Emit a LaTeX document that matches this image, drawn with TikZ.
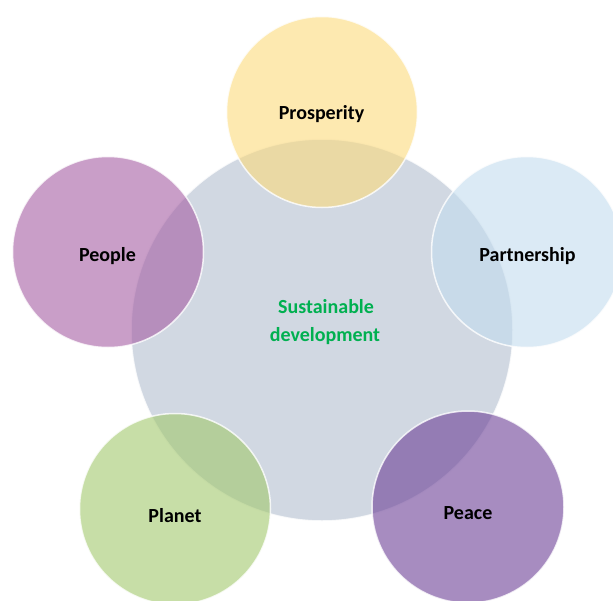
\documentclass[tikz,border=0pt]{standalone}
\usepackage{fontspec}
\setmainfont{Carlito}
\definecolor{cCenter}{RGB}{209,216,226}
\definecolor{cProsp}{RGB}{252,218,123}
\definecolor{cPeople}{RGB}{165,93,163}
\definecolor{cPartner}{RGB}{195,220,238}
\definecolor{cPeace}{RGB}{108,63,150}
\definecolor{cPlanet}{RGB}{162,200,108}
\definecolor{cGreen}{RGB}{0,176,80}
\begin{document}
\begin{tikzpicture}[x=1pt,y=-1pt,
  ring/.style={circle,inner sep=0pt,minimum size=#1,draw=white,draw opacity=0.8,line width=1.5pt,fill opacity=0.6},
  lbl/.style={font=\bfseries\fontsize{20}{24}\selectfont,anchor=base,inner sep=0pt,text=black}]
\useasboundingbox (0,0) rectangle (613,600);
\clip (0,0) rectangle (613,600);
\node[circle,inner sep=0pt,minimum size=382pt,fill=cCenter,draw=white,draw opacity=0.8,line width=1.5pt] (center) at (322,330) {};
\node[ring=191pt,fill=cProsp] (prosp) at (322,112) {};
\node[ring=191pt,fill=cPeople] (people) at (108,252) {};
\node[ring=191pt,fill=cPartner] (partner) at (527,252) {};
\node[ring=192pt,fill=cPeace] (peace) at (468,507) {};
\node[ring=191pt,fill=cPlanet] (planet) at (175,509) {};
\node[lbl] (tprosp) at (321.5,119) {Prosperity};
\node[lbl] (tpeople) at (107.5,261) {People};
\node[lbl] (tpartner) at (527.5,261) {Partnership};
\node[lbl] (tpeace) at (468,519) {Peace};
\node[lbl] (tplanet) at (175,522) {Planet};
\node[lbl,text=cGreen] (tsus) at (326,313) {Sustainable};
\node[lbl,text=cGreen] (tdev) at (325,341.5) {development};
\end{tikzpicture}
\end{document}
